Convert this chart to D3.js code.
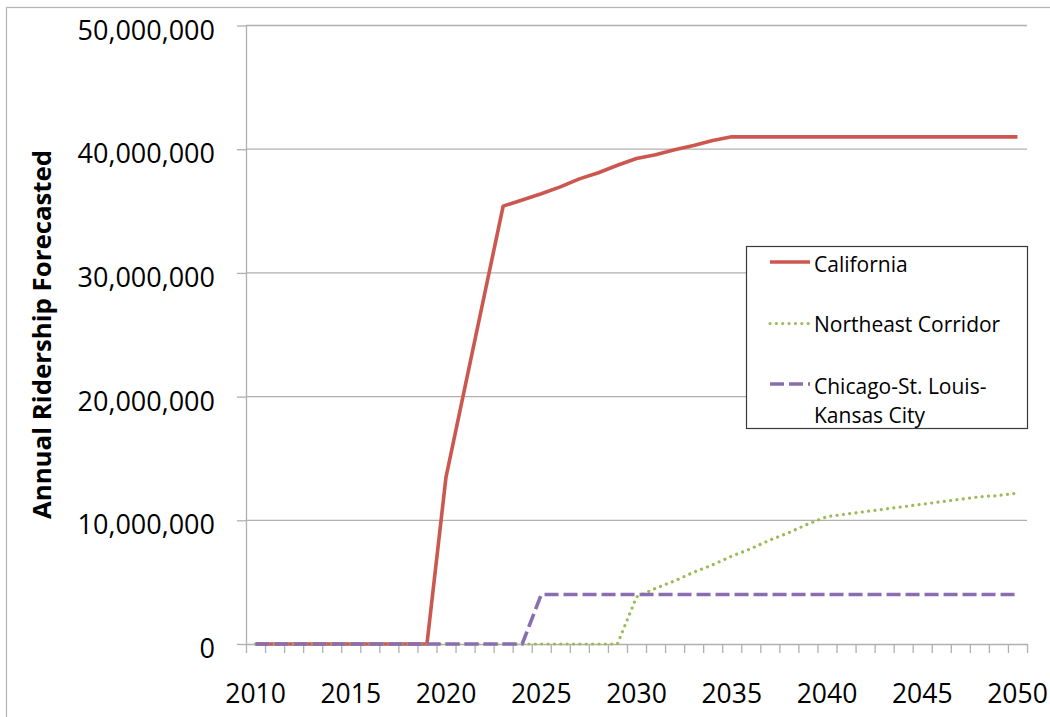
<!DOCTYPE html>
<html>
<head>
<meta charset="utf-8">
<script src="https://cdn.jsdelivr.net/npm/d3@7"></script>
<style>
  html, body { margin: 0; padding: 0; background: #fff; }
  svg { display: block; font-family: "Open Sans", "Liberation Sans", sans-serif; }
</style>
</head>
<body>
<svg id="chart" width="1050" height="717"></svg>
<script>
// Forecast years (one category per year)
const years = d3.range(2010, 2051);

// Annual ridership forecasts, in riders per year
const california = [
  0, 0, 0, 0, 0, 0, 0, 0, 0, 0,                       // 2010-2019
  13.5e6, 20.8e6, 28.1e6, 35.4e6, 35.9e6,             // 2020-2024
  36.4e6, 36.95e6, 37.6e6, 38.1e6, 38.7e6,            // 2025-2029
  39.25e6, 39.55e6, 39.95e6, 40.3e6, 40.7e6,          // 2030-2034
  41.0e6, 41.0e6, 41.0e6, 41.0e6, 41.0e6,             // 2035-2039
  41.0e6, 41.0e6, 41.0e6, 41.0e6, 41.0e6,             // 2040-2044
  41.0e6, 41.0e6, 41.0e6, 41.0e6, 41.0e6, 41.0e6      // 2045-2050
];
const northeast = [
  0, 0, 0, 0, 0, 0, 0, 0, 0, 0,                       // 2010-2019
  0, 0, 0, 0, 0, 0, 0, 0, 0, 0,                       // 2020-2029
  3.8e6, 4.5e6, 5.1e6, 5.8e6, 6.4e6,                  // 2030-2034
  7.1e6, 7.7e6, 8.4e6, 9.0e6, 9.7e6,                  // 2035-2039
  10.3e6, 10.5e6, 10.7e6, 10.9e6, 11.1e6,             // 2040-2044
  11.3e6, 11.5e6, 11.7e6, 11.9e6, 12.0e6, 12.2e6      // 2045-2050
];
const chicagoKC = [
  0, 0, 0, 0, 0, 0, 0, 0, 0, 0,                       // 2010-2019
  0, 0, 0, 0, 0,                                      // 2020-2024
  4.0e6, 4.0e6, 4.0e6, 4.0e6, 4.0e6,                  // 2025-2029
  4.0e6, 4.0e6, 4.0e6, 4.0e6, 4.0e6,                  // 2030-2034
  4.0e6, 4.0e6, 4.0e6, 4.0e6, 4.0e6,                  // 2035-2039
  4.0e6, 4.0e6, 4.0e6, 4.0e6, 4.0e6,                  // 2040-2044
  4.0e6, 4.0e6, 4.0e6, 4.0e6, 4.0e6, 4.0e6            // 2045-2050
];

const seriesNames = ["California", "Northeast Corridor", "Chicago-St. Louis-Kansas City"];
const yTicks = [0, 10e6, 20e6, 30e6, 40e6, 50e6];
const xLabelYears = [2010, 2015, 2020, 2025, 2030, 2035, 2040, 2045, 2050];
const yTitle = "Annual Ridership Forecasted";

const series = [
  { name: seriesNames[0], values: california, color: "#cc574f", width: 3.6, dash: null, cap: "butt" },
  { name: seriesNames[1], values: northeast,  color: "#9bbb59", width: 3.2, dash: "0.01 6.35", cap: "round" },
  { name: seriesNames[2], values: chicagoKC,  color: "#8a6fb0", width: 3.6, dash: "14 5", cap: "butt" }
];

const svg = d3.select("#chart");
const plot = { left: 246, right: 1027, top: 25.5, bottom: 644 };
const gridColor = "#b0b0b0";

// Outer chart frame
svg.append("rect")
  .attr("x", 6.5).attr("y", 7.5)
  .attr("width", 1100).attr("height", 800)
  .attr("fill", "none").attr("stroke", "#b4b4b4").attr("stroke-width", 1.2);

const x = d3.scaleBand().domain(years).range([plot.left, plot.right]).padding(0);
const xc = yr => x(yr) + x.bandwidth() / 2;
const y = d3.scaleLinear().domain([0, 50e6]).range([plot.bottom, plot.top]);

// Horizontal gridlines
svg.append("g")
  .selectAll("line")
  .data(yTicks.filter(v => v > 0))
  .join("line")
  .attr("x1", plot.left).attr("x2", plot.right)
  .attr("y1", d => y(d)).attr("y2", d => y(d))
  .attr("stroke", gridColor).attr("stroke-width", 1.3);

// Y axis
const yAxis = svg.append("g")
  .attr("transform", `translate(${plot.left},0)`)
  .call(d3.axisLeft(y).tickValues(yTicks).tickFormat(d3.format(",")).tickSize(9).tickSizeOuter(0).tickPadding(22));
yAxis.select(".domain").attr("stroke", gridColor).attr("stroke-width", 1.3);
yAxis.selectAll(".tick line").attr("stroke", gridColor).attr("stroke-width", 1.3);
yAxis.selectAll(".tick text")
  .attr("dy", "0.5em")
  .attr("fill", "#000")
  .style("font-size", "27px")
  .style("font-family", "'Open Sans', sans-serif");

// X axis: tick marks on category boundaries
const xEdge = d3.scaleLinear().domain([0, years.length]).range([plot.left, plot.right]);
const xTickAxis = svg.append("g")
  .attr("transform", `translate(0,${plot.bottom})`)
  .call(d3.axisBottom(xEdge).tickValues(d3.range(years.length + 1)).tickFormat("").tickSize(9).tickSizeOuter(0));
xTickAxis.select(".domain").attr("stroke", gridColor).attr("stroke-width", 1.3);
xTickAxis.selectAll(".tick line").attr("stroke", gridColor).attr("stroke-width", 1.3);

// X axis: labels centred on every fifth year
const xLabelAxis = svg.append("g")
  .attr("transform", `translate(0,${plot.bottom})`)
  .call(d3.axisBottom(x).tickValues(xLabelYears).tickFormat(d3.format("d")).tickSize(0).tickPadding(40));
xLabelAxis.select(".domain").remove();
xLabelAxis.selectAll(".tick text")
  .attr("fill", "#000")
  .style("font-size", "26.5px")
  .style("font-family", "'Open Sans', sans-serif");

// Y axis title
svg.append("text")
  .attr("transform", "translate(50.5,334.5) rotate(-90)")
  .attr("text-anchor", "middle")
  .style("font-family", "'Open Sans', sans-serif")
  .style("font-weight", "bold")
  .style("font-size", "25.8px")
  .attr("fill", "#000")
  .text(yTitle);

// Series lines
const line = d3.line()
  .x((d, i) => xc(years[i]))
  .y(d => y(d));

svg.append("g")
  .selectAll("path")
  .data(series)
  .join("path")
  .attr("d", d => line(d.values))
  .attr("fill", "none")
  .attr("stroke", d => d.color)
  .attr("stroke-width", d => d.width)
  .attr("stroke-dasharray", d => d.dash)
  .attr("stroke-linecap", d => d.cap)
  .attr("stroke-linejoin", "round");

// Legend
const legend = svg.append("g");
legend.append("rect")
  .attr("x", 746.5).attr("y", 246.5)
  .attr("width", 281).attr("height", 182)
  .attr("fill", "#fff").attr("stroke", "#3a3a3a").attr("stroke-width", 1.2);

const legendRows = [
  { s: series[0], lineY: 262, lines: ["California"], baseY: 272 },
  { s: series[1], lineY: 323.5, lines: ["Northeast Corridor"], baseY: 332 },
  { s: series[2], lineY: 384, lines: ["Chicago-St. Louis-", "Kansas City"], baseY: 393.5 }
];
legendRows.forEach(r => {
  legend.append("line")
    .attr("x1", 770).attr("x2", 810)
    .attr("y1", r.lineY).attr("y2", r.lineY)
    .attr("stroke", r.s.color)
    .attr("stroke-width", r.s.width)
    .attr("stroke-dasharray", r.s.dash)
    .attr("stroke-linecap", r.s.cap);
  const t = legend.append("text")
    .attr("x", 814).attr("y", r.baseY)
    .style("font-family", "'Open Sans', sans-serif")
    .style("font-size", "21px")
    .attr("fill", "#000");
  r.lines.forEach((ln, i) => {
    t.append("tspan").attr("x", 814).attr("dy", i === 0 ? 0 : 29.5).text(ln);
  });
});
</script>
</body>
</html>
